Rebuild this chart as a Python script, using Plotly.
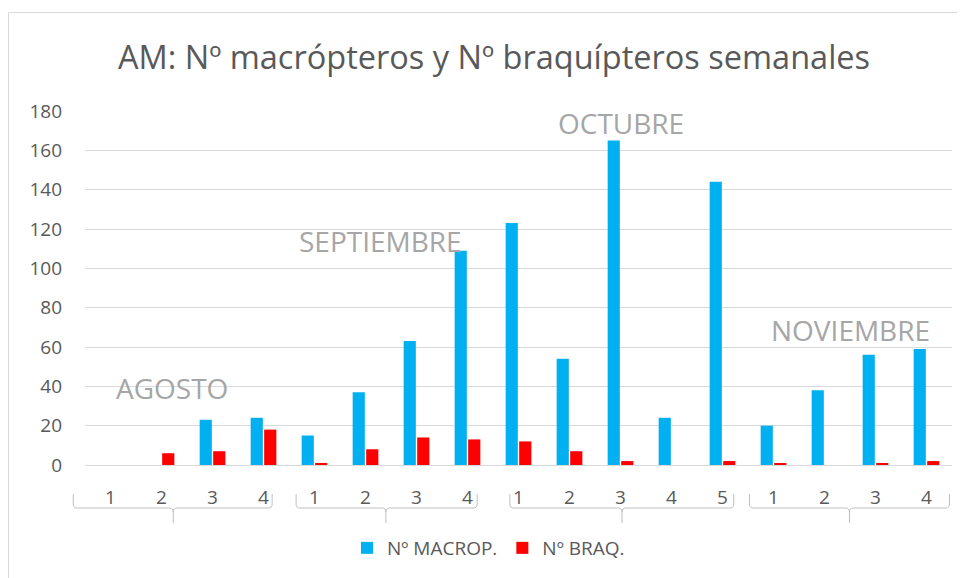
import plotly.graph_objects as go

# ---------------- data ----------------
months = ["AGOSTO", "SEPTIEMBRE", "OCTUBRE", "NOVIEMBRE"]
weeks_per_month = [4, 4, 5, 4]
week_labels = ["1", "2", "3", "4",
               "1", "2", "3", "4",
               "1", "2", "3", "4", "5",
               "1", "2", "3", "4"]
macrop = [0, 0, 23, 24,
          15, 37, 63, 109,
          123, 54, 165, 24, 144,
          20, 38, 56, 59]
braq = [0, 6, 7, 18,
        1, 8, 14, 13,
        12, 7, 2, 0, 2,
        1, 0, 1, 2]
series_names = ["Nº MACROP.", "Nº BRAQ."]
title_text = "AM: Nº macrópteros y Nº braquípteros semanales"

# ---------------- layout constants ----------------
OFF = 8                      # page body margin
PL, PT, PW, PH = 85, 111, 867, 354   # plot area in page pixels
W, H = 965 - OFF, 578 - OFF
ML, MT = PL - OFF, PT - OFF
MR = W - ML - PW
MB = H - MT - PH
N = len(week_labels)
xpos = list(range(N))
XMIN, XMAX = -0.5, N - 0.5

# month label placement (x in category units, y in data units)
month_label_pos = [(1.2, 39), (5.3, 114), (10.0, 174), (14.5, 68.5)]
# bracket spans (left, tip, right) in category units
bracket_spans = [(-0.73, 1.23, 3.17), (3.64, 5.4, 7.19),
                 (7.83, 10.03, 12.22), (12.53, 14.49, 16.45)]

GRAY_TXT = "#595959"
GRID = "#d9d9d9"
FONT = "Open Sans"


def d2px(d):
    return PL + (d - XMIN) / (XMAX - XMIN) * PW


def px2paper_x(px):
    return (px - PL) / PW


def py2paper_y(py):
    return (PT + PH - py) / PH


fig = go.Figure()
fig.add_trace(go.Bar(x=xpos, y=macrop, name=series_names[0],
                     marker=dict(color="#00b0f0", line=dict(width=0))))
fig.add_trace(go.Bar(x=xpos, y=braq, name=series_names[1],
                     marker=dict(color="#ff0000", line=dict(width=0))))

shapes = []
# outer chart border
shapes.append(dict(type="rect", xref="paper", yref="paper",
                   x0=px2paper_x(8.5), x1=px2paper_x(1000),
                   y0=py2paper_y(620), y1=py2paper_y(12.5),
                   line=dict(color=GRID, width=1), layer="below"))

# brackets for month groups
for (l, t, r) in bracket_spans:
    xl, xt, xr = d2px(l), d2px(t), d2px(r)
    top, hy, bot, rr = 494, 508, 523, 4
    pts = [
        ("M", [(xl, top)]),
        ("L", [(xl, hy - rr)]),
        ("Q", [(xl, hy), (xl + rr, hy)]),
        ("L", [(xt - rr, hy)]),
        ("Q", [(xt, hy), (xt, hy + rr)]),
        ("L", [(xt, bot)]),
        ("M", [(xt, hy + rr)]),
        ("Q", [(xt, hy), (xt + rr, hy)]),
        ("L", [(xr - rr, hy)]),
        ("Q", [(xr, hy), (xr, hy - rr)]),
        ("L", [(xr, top)]),
    ]
    path = ""
    for cmd, coords in pts:
        path += cmd + " ".join(f"{px2paper_x(a):.5f},{py2paper_y(b):.5f}" for a, b in coords) + " "
    shapes.append(dict(type="path", xref="paper", yref="paper", path=path.strip(),
                       line=dict(color="#bfbfbf", width=1)))

annotations = []
for m, (mx, my) in zip(months, month_label_pos):
    annotations.append(dict(x=mx, y=my, xref="x", yref="y", text=m, showarrow=False,
                            font=dict(family=FONT, size=28, color="#a6a6a6"),
                            xanchor="center", yanchor="middle"))

fig.update_layout(
    width=W, height=H,
    margin=dict(l=ML, r=MR, t=MT, b=MB, autoexpand=False),
    paper_bgcolor="white", plot_bgcolor="white",
    title=dict(text=title_text, x=(494 - OFF) / W, xanchor="center",
               y=1 - (58 - OFF) / H, yanchor="middle",
               font=dict(family=FONT, size=32.5, color=GRAY_TXT)),
    barmode="group", bargap=0.47, bargroupgap=0.1,
    showlegend=True,
    legend=dict(orientation="h", x=0.5 - 30 / PW, xanchor="center", y=py2paper_y(548),
                yanchor="middle", itemwidth=30,
                font=dict(family=FONT, size=19, color=GRAY_TXT), itemclick=False),
    shapes=shapes, annotations=annotations,
    font=dict(family=FONT, color=GRAY_TXT),
)
fig.update_xaxes(range=[XMIN, XMAX], tickmode="array", tickvals=xpos, ticktext=week_labels,
                 showgrid=False, zeroline=False, showline=True, linecolor=GRID, linewidth=1,
                 ticks="", ticklabelstandoff=15,
                 tickfont=dict(family=FONT, size=19, color=GRAY_TXT))
fig.update_yaxes(range=[0, 180], dtick=20, tick0=0, showgrid=True, gridcolor=GRID, gridwidth=1,
                 zeroline=False, showline=False, ticks="", ticklabelstandoff=22,
                 tickfont=dict(family=FONT, size=19, color=GRAY_TXT))

fig.write_html("out.html")
